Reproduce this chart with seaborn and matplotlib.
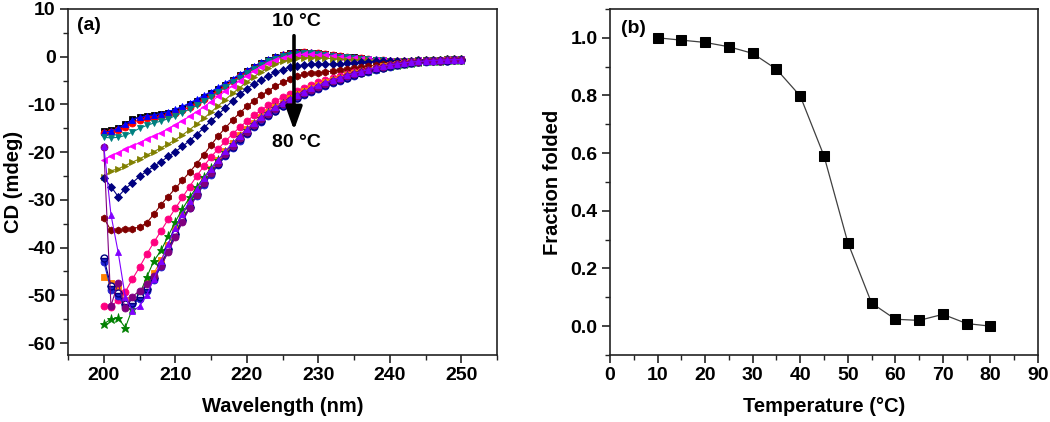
import numpy as np
import pandas as pd
import matplotlib.pyplot as plt
import seaborn as sns
from matplotlib.ticker import MultipleLocator

sns.set_style('ticks')
plt.rcParams['font.family'] = ['Liberation Sans', 'DejaVu Sans']
plt.rcParams['font.weight'] = 'bold'
plt.rcParams['axes.labelweight'] = 'bold'
plt.rcParams['axes.linewidth'] = 1.2
plt.rcParams['axes.edgecolor'] = '#222222'
plt.rcParams['axes.unicode_minus'] = False
plt.rcParams['text.color'] = 'black'
plt.rcParams['axes.labelcolor'] = 'black'

# --- (a) CD spectra, one curve per temperature ---
wavelength = list(range(200, 251))
temps = [10, 15, 20, 25, 30, 35, 40, 45, 50, 55, 60, 65, 70, 75, 80]

cd_10 = [-15.5, -15.3, -14.9, -14.1, -13.1, -12.6, -12.4, -12.3, -12.1, -11.8,
         -11.3, -10.7, -10.0, -9.3, -8.5, -7.7, -6.8, -5.9, -4.9, -3.9,
         -3.0, -2.1, -1.3, -0.6, 0.0, 0.4, 0.7, 0.9, 0.9, 0.8,
         0.7, 0.5, 0.3, 0.1, 0.0, -0.1, -0.3, -0.4, -0.6, -0.7,
         -0.8, -0.8, -0.8, -0.8, -0.7, -0.7, -0.6, -0.6, -0.5, -0.5,
         -0.5]
cd_15 = [-16.0, -15.8, -15.4, -14.7, -13.8, -13.2, -12.9, -12.8, -12.6, -12.3,
         -11.8, -11.2, -10.5, -9.7, -8.9, -8.0, -7.1, -6.1, -5.1, -4.1,
         -3.2, -2.3, -1.5, -0.8, -0.2, 0.3, 0.6, 0.8, 0.9, 0.8,
         0.7, 0.5, 0.3, 0.1, -0.1, -0.2, -0.3, -0.5, -0.6, -0.7,
         -0.8, -0.8, -0.8, -0.8, -0.7, -0.7, -0.6, -0.6, -0.5, -0.5,
         -0.5]
cd_20 = [-15.8, -15.6, -15.0, -14.2, -13.2, -12.7, -12.4, -12.2, -11.9, -11.5,
         -11.0, -10.4, -9.7, -8.9, -8.1, -7.3, -6.4, -5.5, -4.6, -3.7,
         -2.8, -2.0, -1.2, -0.5, 0.1, 0.5, 0.8, 1.0, 1.0, 0.9,
         0.7, 0.5, 0.3, 0.1, 0.0, -0.1, -0.3, -0.4, -0.5, -0.6,
         -0.7, -0.8, -0.8, -0.7, -0.7, -0.6, -0.6, -0.5, -0.5, -0.5,
         -0.5]
cd_25 = [-16.9, -17.0, -16.9, -16.5, -15.8, -15.0, -14.4, -13.9, -13.5, -13.0,
         -12.4, -11.7, -11.0, -10.2, -9.3, -8.4, -7.4, -6.4, -5.4, -4.4,
         -3.4, -2.5, -1.7, -1.0, -0.4, 0.1, 0.4, 0.6, 0.7, 0.7,
         0.6, 0.4, 0.2, 0.0, -0.1, -0.2, -0.4, -0.5, -0.6, -0.7,
         -0.8, -0.8, -0.8, -0.8, -0.7, -0.7, -0.6, -0.6, -0.5, -0.5,
         -0.5]
cd_30 = [-21.6, -20.8, -20.1, -19.4, -18.7, -18.0, -17.3, -16.6, -15.9, -15.1,
         -14.3, -13.4, -12.5, -11.5, -10.5, -9.4, -8.3, -7.2, -6.1, -5.0,
         -4.0, -3.0, -2.1, -1.3, -0.7, -0.2, 0.2, 0.4, 0.5, 0.5,
         0.4, 0.3, 0.1, -0.1, -0.2, -0.3, -0.4, -0.5, -0.6, -0.7,
         -0.8, -0.8, -0.8, -0.8, -0.7, -0.7, -0.6, -0.6, -0.5, -0.5,
         -0.5]
cd_35 = [-25.3, -23.9, -23.5, -22.8, -22.1, -21.4, -20.6, -19.9, -19.1, -18.3,
         -17.4, -16.4, -15.3, -14.1, -12.9, -11.6, -10.3, -9.0, -7.7, -6.5,
         -5.3, -4.2, -3.2, -2.3, -1.6, -1.0, -0.6, -0.3, -0.2, -0.2,
         -0.2, -0.3, -0.4, -0.5, -0.6, -0.6, -0.7, -0.7, -0.8, -0.8,
         -0.8, -0.8, -0.8, -0.8, -0.7, -0.7, -0.6, -0.6, -0.5, -0.5,
         -0.5]
cd_40 = [-25.4, -27.2, -29.3, -27.7, -26.4, -25.1, -24.0, -23.0, -22.0, -20.9,
         -19.9, -18.8, -17.6, -16.3, -14.9, -13.5, -12.1, -10.7, -9.2, -7.9,
         -6.7, -5.7, -4.8, -4.0, -3.3, -2.7, -2.2, -1.9, -1.7, -1.6,
         -1.6, -1.6, -1.5, -1.5, -1.4, -1.3, -1.2, -1.1, -1.0, -1.0,
         -0.9, -0.9, -0.8, -0.8, -0.7, -0.7, -0.6, -0.6, -0.5, -0.5,
         -0.5]
cd_45 = [-33.8, -36.4, -36.4, -36.2, -36.0, -35.7, -34.8, -33.0, -31.0, -29.3,
         -27.6, -25.9, -24.2, -22.4, -20.5, -18.5, -16.6, -14.9, -13.3, -11.8,
         -10.4, -9.2, -8.1, -7.1, -6.2, -5.4, -4.7, -4.1, -3.7, -3.5,
         -3.4, -3.2, -3.0, -2.8, -2.6, -2.4, -2.2, -2.0, -1.8, -1.6,
         -1.5, -1.3, -1.2, -1.1, -1.0, -0.9, -0.8, -0.7, -0.7, -0.6,
         -0.6]
cd_50 = [-52.3, -52.4, -51.0, -49.3, -46.6, -44.1, -41.4, -38.9, -36.5, -34.1,
         -31.8, -29.5, -27.2, -25.0, -22.9, -21.0, -19.3, -17.7, -16.2, -14.8,
         -13.5, -12.3, -11.2, -10.2, -9.3, -8.5, -7.8, -7.1, -6.5, -5.9,
         -5.4, -4.9, -4.5, -4.1, -3.7, -3.3, -3.0, -2.7, -2.4, -2.1,
         -1.8, -1.6, -1.4, -1.2, -1.1, -1.0, -0.9, -0.8, -0.7, -0.7,
         -0.6]
cd_55 = [-46.2, -47.4, -48.5, -51.0, -51.5, -50.2, -47.4, -45.4, -42.6, -39.4,
         -36.2, -33.2, -30.4, -27.9, -25.6, -23.5, -21.6, -19.8, -18.1, -16.5,
         -15.1, -13.8, -12.6, -11.5, -10.5, -9.6, -8.7, -7.9, -7.2, -6.6,
         -6.0, -5.4, -4.9, -4.4, -3.9, -3.5, -3.1, -2.7, -2.3, -2.0,
         -1.8, -1.6, -1.4, -1.2, -1.1, -1.0, -0.9, -0.8, -0.7, -0.7,
         -0.6]
cd_60 = [-56.0, -55.0, -54.7, -56.8, -52.8, -49.8, -46.2, -42.8, -40.6, -37.6,
         -34.6, -31.9, -29.5, -27.3, -25.3, -23.4, -21.6, -19.9, -18.3, -16.8,
         -15.4, -14.1, -12.9, -11.8, -10.8, -9.9, -9.0, -8.2, -7.5, -6.9,
         -6.3, -5.7, -5.1, -4.6, -4.1, -3.7, -3.3, -2.9, -2.5, -2.2,
         -1.9, -1.7, -1.5, -1.3, -1.1, -1.0, -0.9, -0.8, -0.7, -0.7,
         -0.6]
cd_65 = [-43.0, -48.8, -50.2, -52.3, -51.9, -50.8, -49.0, -46.8, -44.0, -40.8,
         -37.6, -34.5, -31.7, -29.1, -26.8, -24.7, -22.7, -20.9, -19.2, -17.6,
         -16.1, -14.8, -13.6, -12.5, -11.4, -10.4, -9.5, -8.7, -8.0, -7.3,
         -6.7, -6.1, -5.5, -5.0, -4.5, -4.0, -3.5, -3.1, -2.7, -2.4,
         -2.1, -1.8, -1.6, -1.4, -1.2, -1.1, -1.0, -0.9, -0.8, -0.7,
         -0.7]
cd_70 = [-42.1, -48.1, -49.6, -51.9, -51.6, -50.4, -48.6, -46.4, -43.6, -40.3,
         -37.2, -34.2, -31.4, -28.8, -26.5, -24.4, -22.4, -20.6, -18.9, -17.3,
         -15.9, -14.6, -13.4, -12.3, -11.3, -10.3, -9.4, -8.6, -7.9, -7.2,
         -6.6, -6.0, -5.4, -4.9, -4.4, -3.9, -3.4, -3.0, -2.6, -2.3,
         -2.0, -1.7, -1.5, -1.3, -1.2, -1.0, -0.9, -0.8, -0.8, -0.7,
         -0.7]
cd_75 = [-19.0, -52.2, -47.4, -52.7, -50.3, -49.0, -47.7, -46.0, -43.8, -41.0,
         -37.8, -34.6, -31.6, -28.9, -26.5, -24.3, -22.3, -20.4, -18.7, -17.1,
         -15.7, -14.3, -13.1, -12.0, -11.0, -10.0, -9.1, -8.3, -7.6, -6.9,
         -6.3, -5.7, -5.1, -4.6, -4.1, -3.6, -3.2, -2.8, -2.4, -2.1,
         -1.8, -1.6, -1.4, -1.2, -1.1, -1.0, -0.9, -0.8, -0.7, -0.7,
         -0.6]
cd_80 = [-18.7, -33.1, -40.9, -50.3, -53.3, -52.3, -49.9, -46.6, -42.9, -39.2,
         -35.9, -32.9, -30.2, -27.7, -25.5, -23.5, -21.6, -19.8, -18.1, -16.6,
         -15.2, -13.9, -12.7, -11.6, -10.6, -9.7, -8.8, -8.0, -7.3, -6.6,
         -6.0, -5.4, -4.9, -4.4, -3.9, -3.5, -3.1, -2.7, -2.3, -2.0,
         -1.7, -1.5, -1.3, -1.1, -1.0, -0.9, -0.8, -0.7, -0.7, -0.6,
         -0.6]

spectra = [cd_10, cd_15, cd_20, cd_25, cd_30, cd_35, cd_40, cd_45,
           cd_50, cd_55, cd_60, cd_65, cd_70, cd_75, cd_80]

# --- (b) melting curve ---
temperature = [10, 15, 20, 25, 30, 35, 40, 45, 50, 55, 60, 65, 70, 75, 80]
fraction = [1.0, 0.992, 0.984, 0.969, 0.946, 0.891, 0.798, 0.590, 0.290,
            0.080, 0.024, 0.020, 0.041, 0.009, 0.0]

# Origin-like colours / symbols
palette = {10: '#000000', 15: '#FF0000', 20: '#0000FF', 25: '#008080',
           30: '#FF00FF', 35: '#808000', 40: '#000080', 45: '#800000',
           50: '#FF0080', 55: '#FF8000', 60: '#008000', 65: '#2020D0',
           70: '#000080', 75: '#800080', 80: '#8000FF'}
marker_map = {10: 's', 15: 'o', 20: '^', 25: 'v', 30: '<', 35: '>', 40: 'D',
              45: 'h', 50: 'o', 55: 's', 60: '*', 65: 'o', 70: 'o', 75: 'o',
              80: '^'}

df = pd.DataFrame({
    'Wavelength': wavelength * len(temps),
    'CD': np.concatenate(spectra),
    'T': np.repeat(temps, len(wavelength)),
})
melt = pd.DataFrame({'Temperature': temperature, 'Fraction': fraction})

fig = plt.figure(figsize=(10.5, 4.22), dpi=100)
ax1 = fig.add_axes([0.0648, 0.1588, 0.4086, 0.8199])
ax2 = fig.add_axes([0.581, 0.1588, 0.4076, 0.8199])

sns.lineplot(data=df, x='Wavelength', y='CD', hue='T', style='T',
             hue_order=temps, style_order=temps, palette=palette,
             markers=marker_map, dashes=False, markersize=5.0, linewidth=0.8,
             errorbar=None, legend=False, ax=ax1)

for line, t in zip(ax1.lines, temps):
    line.set_markeredgecolor(palette[t])
    line.set_markeredgewidth(0.6)
    if marker_map[t] == 'D':
        line.set_markersize(4.0)
    if marker_map[t] == '*':
        line.set_markersize(6.5)
    if t == 70:
        line.set_markerfacecolor('#2020D0')
        line.set_fillstyle('bottom')
        line.set_markerfacecoloralt('white')
        line.set_markeredgewidth(1.0)

ax1.set_xlim(195, 255)
ax1.set_ylim(-62.5, 10)
ax1.xaxis.set_major_locator(MultipleLocator(10))
ax1.xaxis.set_minor_locator(MultipleLocator(5))
ax1.yaxis.set_major_locator(MultipleLocator(10))
ax1.yaxis.set_minor_locator(MultipleLocator(5))
ax1.set_xlabel('Wavelength (nm)', fontsize=14.5, labelpad=9)
ax1.set_ylabel('CD (mdeg)', fontsize=14.5, labelpad=3)

ax1.annotate('', xy=(226.6, -15.4), xytext=(226.6, 4.4),
             arrowprops=dict(arrowstyle='-|>,head_length=0.7,head_width=0.25',
                             lw=2.6, color='black', mutation_scale=20,
                             shrinkA=0, shrinkB=0), zorder=20)
ax1.text(226.9, 7.4, '10 °C', ha='center', va='center', fontsize=14,
         fontweight='bold', zorder=21)
ax1.text(226.9, -17.9, '80 °C', ha='center', va='center', fontsize=14,
         fontweight='bold', zorder=21)
ax1.text(197.9, 6.6, '(a)', ha='center', va='center', fontsize=14,
         fontweight='bold')

sns.lineplot(data=melt, x='Temperature', y='Fraction', color='#404040',
             linewidth=0.9, marker='s', markersize=6.5,
             markerfacecolor='black', markeredgecolor='black', ax=ax2)

ax2.set_xlim(0, 90)
ax2.set_ylim(-0.1, 1.1)
ax2.xaxis.set_major_locator(MultipleLocator(10))
ax2.xaxis.set_minor_locator(MultipleLocator(5))
ax2.yaxis.set_major_locator(MultipleLocator(0.2))
ax2.yaxis.set_minor_locator(MultipleLocator(0.1))
ax2.set_xlabel('Temperature (°C)', fontsize=14.5, labelpad=9)
ax2.set_ylabel('Fraction folded', fontsize=14.5, labelpad=6)
ax2.text(4.9, 1.034, '(b)', ha='center', va='center', fontsize=14,
         fontweight='bold')

for ax in (ax1, ax2):
    ax.tick_params(which='major', direction='out', length=6, width=1.2,
                   labelsize=14, pad=3, colors='#222222', labelcolor='black')
    ax.tick_params(which='minor', direction='out', length=3.5, width=1.0,
                   colors='#222222')
    for s in ax.spines.values():
        s.set_visible(True)

fig.savefig('out.png', dpi=100)
